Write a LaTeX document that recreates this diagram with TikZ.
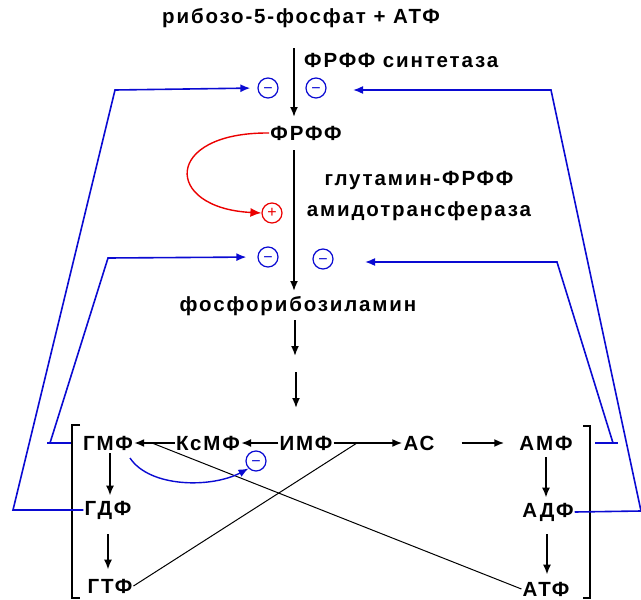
\documentclass[tikz,border=0pt]{standalone}
\usepackage{fontspec}
\setmainfont{Liberation Sans}[LetterSpace=9]
\usetikzlibrary{arrows.meta}
\definecolor{bcol}{RGB}{10,10,210}
\definecolor{rcol}{RGB}{235,0,0}
\newcommand{\mns}{\raisebox{-2.8pt}[5pt][0pt]{−}}
\begin{document}
\begin{tikzpicture}[x=1pt,y=-1pt,
  lbl/.style={font=\fontsize{20.5}{31}\selectfont\bfseries, inner sep=1pt},
  arr/.style={line width=1.8pt, -{Latex[length=10pt,width=8pt]}},
  thin/.style={line width=1pt},
  blu/.style={draw=bcol, line width=1.6pt},
  bluarr/.style={blu, -{Latex[length=10pt,width=8pt]}},
  inh/.style={circle, draw=bcol, line width=1.2pt, minimum size=20pt, inner sep=0pt, text=bcol, font=\fontsize{16}{16}\selectfont},
  actv/.style={circle, draw=rcol, line width=1.2pt, minimum size=20pt, inner sep=0pt, text=rcol, font=\fontsize{16}{16}\selectfont}
]
\useasboundingbox (0,0) rectangle (641,600);

% main chain texts
\node[lbl] (title) at (301,18) {рибозо-5-фосфат + АТФ};
\node[lbl, anchor=west] (enz1) at (303,60) {ФРФФ синтетаза};
\node[lbl] (prpp) at (306,133) {ФРФФ};
\node[lbl, align=center] (enz2) at (419,196) {глутамин-ФРФФ\\амидотрансфераза};
\node[lbl] (pra) at (298,306) {фосфорибозиламин};

% regulators
\node[inh] (m1) at (268,88) {\mns};
\node[inh] (m2) at (316,88) {\mns};
\node[actv] (p1) at (272,213) {+};
\node[inh] (m3) at (268,257) {\mns};
\node[inh] (m4) at (323,259) {\mns};
\node[inh] (m5) at (256,461) {\mns};

% bottom row
\node[lbl] (gmp) at (108,443) {ГМФ};
\node[lbl] (ksmp) at (208,443) {КсМФ};
\node[lbl] (imp) at (306,443) {ИМФ};
\node[lbl] (as) at (419,443) {АС};
\node[lbl] (amp) at (546,443) {АМФ};
\node[lbl] (gdp) at (108,510) {ГДФ};
\node[lbl] (gtp) at (110,586) {ГТФ};
\node[lbl] (adp) at (548,512) {АДФ};
\node[lbl] (atp) at (546,589) {АТФ};

% coordinates
\coordinate (a1s) at (294,48);
\coordinate (a1e) at (294,117);
\coordinate (a2s) at (294,150);
\coordinate (a2e) at (294,291);
\coordinate (a3s) at (295,320);
\coordinate (a3e) at (295,356);
\coordinate (a4s) at (296,372);
\coordinate (a4e) at (296,408);
\coordinate (x1) at (357,443);
\coordinate (x2) at (152,443);

% main arrows
\draw[arr] (a1s) -- (a1e);
\draw[arr] (a2s) -- (a2e);
\draw[arr] (a3s) -- (a3e);
\draw[arr] (a4s) -- (a4e);

% bottom arrows
\draw[arr] (imp.west) -- (ksmp.east);
\draw[arr] (ksmp.west) -- (gmp.east);
\draw[arr] (imp.east) -- (as.west);
\draw[arr, shorten <=26pt, shorten >=14pt] (as.east) -- (amp.west);
\draw[arr, shorten <=2pt, shorten >=4pt] (gmp.south -| 110,0) -- (gdp.north -| 110,0);
\draw[arr, shorten <=14pt, shorten >=8pt] (gdp.south -| 108,0) -- (gtp.north -| 108,0);
\draw[arr, shorten <=6pt, shorten >=4pt] (amp.south) -- (adp.north -| amp.south);
\draw[arr, shorten <=12pt, shorten >=6pt] (adp.south -| 547,0) -- (atp.north -| 547,0);

% crossing lines
\draw[thin] (gtp.east) -- (x1);
\draw[thin] (atp.west) -- (x2);

% brackets
\draw[line width=1.3pt] (80,425) -- (72,425) -- (72,598) -- (80,598);
\draw[line width=1.3pt] (583,426) -- (590,426) -- (590,598) -- (583,598);

% red activation
\draw[draw=rcol, line width=1.4pt, -{Latex[length=11pt,width=9pt]}]
  (prpp.west) .. controls (163,132) and (163,208) .. (p1.west);

% blue feedback lines
\draw[bluarr, shorten >=7pt] (gdp.west) -- (13,510) -- (115,90) -- (m1.west);
\draw[blu] (47,443) -- (71,443);
\draw[bluarr, shorten >=11pt] (50,443) -- (108,258) -- (m3.west);
\coordinate (r1) at (353,90);
\coordinate (r2) at (365,262);
\draw[bluarr] (adp.east) -- (641,511) -- (551,90) -- (r1);
\draw[blu] (595,443) -- (618,443);
\draw[bluarr] (613,443) -- (557,262) -- (r2);
\draw[bluarr, line width=1.4pt] (130,458) .. controls (150,488) and (212,488) .. (m5.south west);
\end{tikzpicture}
\end{document}
